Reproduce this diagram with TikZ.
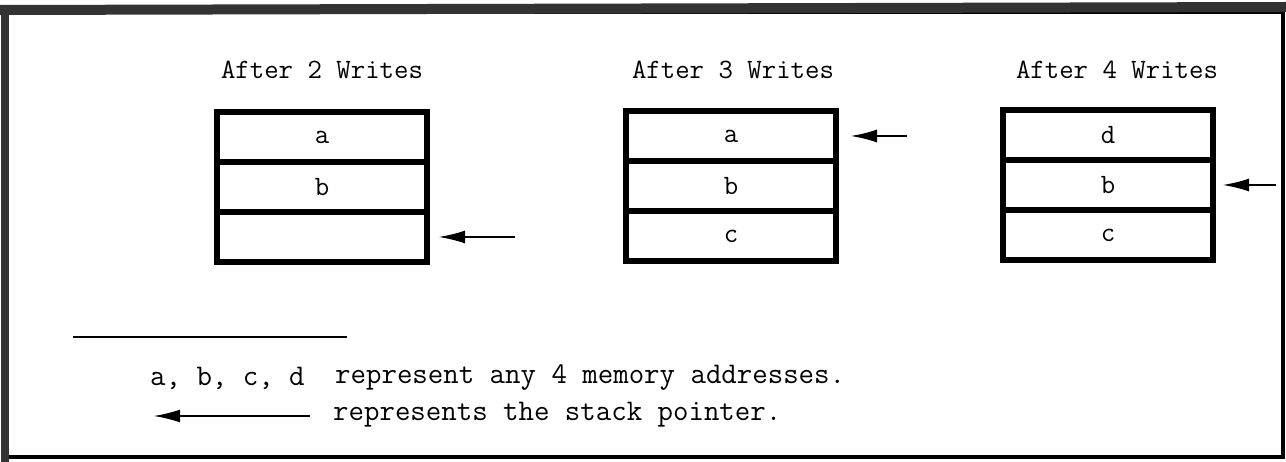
\documentclass[tikz,border=0pt]{standalone}
\usepackage{tikz}
\usetikzlibrary{arrows.meta,positioning}

\begin{document}
\begin{tikzpicture}[x=1pt,y=-1pt,node distance=0pt]
    \tikzstyle{cell}=[draw=black,line width=6.5pt,outer sep=0pt,inner sep=0pt,minimum width=210pt,minimum height=50pt,font=\fontsize{28}{30}\selectfont\ttfamily]
    \tikzstyle{title_text}=[inner sep=0pt,font=\fontsize{28}{30}\selectfont\ttfamily]
    \tikzstyle{key_text}=[anchor=west,inner sep=0pt,font=\fontsize{30}{32}\selectfont\ttfamily]
    \tikzstyle{pointer}=[line width=2.5pt,-{Latex[length=27pt,width=13pt]}]
    \useasboundingbox (0,0) rectangle (1286,462);

    % frame
    \draw[line width=3.5pt] (6,12) rectangle (1283,457);
    \draw[line width=10pt,black!80] (0,10) -- (1286,7);
    \draw[line width=8pt,black!80] (5,8) -- (5,462);

    % titles
    \node[title_text] (t1) at (322,70)  {After 2 Writes};
    \node[title_text] (t2) at (733,70)  {After 3 Writes};
    \node[title_text] (t3) at (1117,70) {After 4 Writes};

    % stacks
    \node[cell]               (b1a) at (322,137) {a};
    \node[cell,below=of b1a]  (b1b)              {b};
    \node[cell,below=of b1b]  (b1c)              {};

    \node[cell]               (b2a) at (731,136) {a};
    \node[cell,below=of b2a]  (b2b)              {b};
    \node[cell,below=of b2b]  (b2c)              {c};

    \node[cell]               (b3a) at (1108,135) {d};
    \node[cell,below=of b3a]  (b3b)               {b};
    \node[cell,below=of b3b]  (b3c)               {c};

    % stack pointers
    \coordinate (p1) at (515,237);
    \coordinate (p2) at (907,136);
    \coordinate (p3) at (1276,185);
    \draw[pointer,shorten >=11pt] (p1) -- (b1c);
    \draw[pointer,shorten >=14pt] (p2) -- (b2a);
    \draw[pointer,shorten >=9pt]  (p3) -- (b3b);

    % key
    \coordinate (rule_l) at (73,337);
    \coordinate (rule_r) at (347,337);
    \draw[line width=2.5pt] (rule_l) -- (rule_r);
    \node[key_text] (keys) at (150,378) {a, b, c, d};
    \node[key_text] (addr) at (335,378) {represent any 4 memory addresses.};
    \node[key_text] (sp)   at (333,415) {represents the stack pointer.};
    \coordinate (k_tail) at (310,416);
    \coordinate (k_tip)  at (153,416);
    \draw[pointer] (k_tail) -- (k_tip);
\end{tikzpicture}
\end{document}
